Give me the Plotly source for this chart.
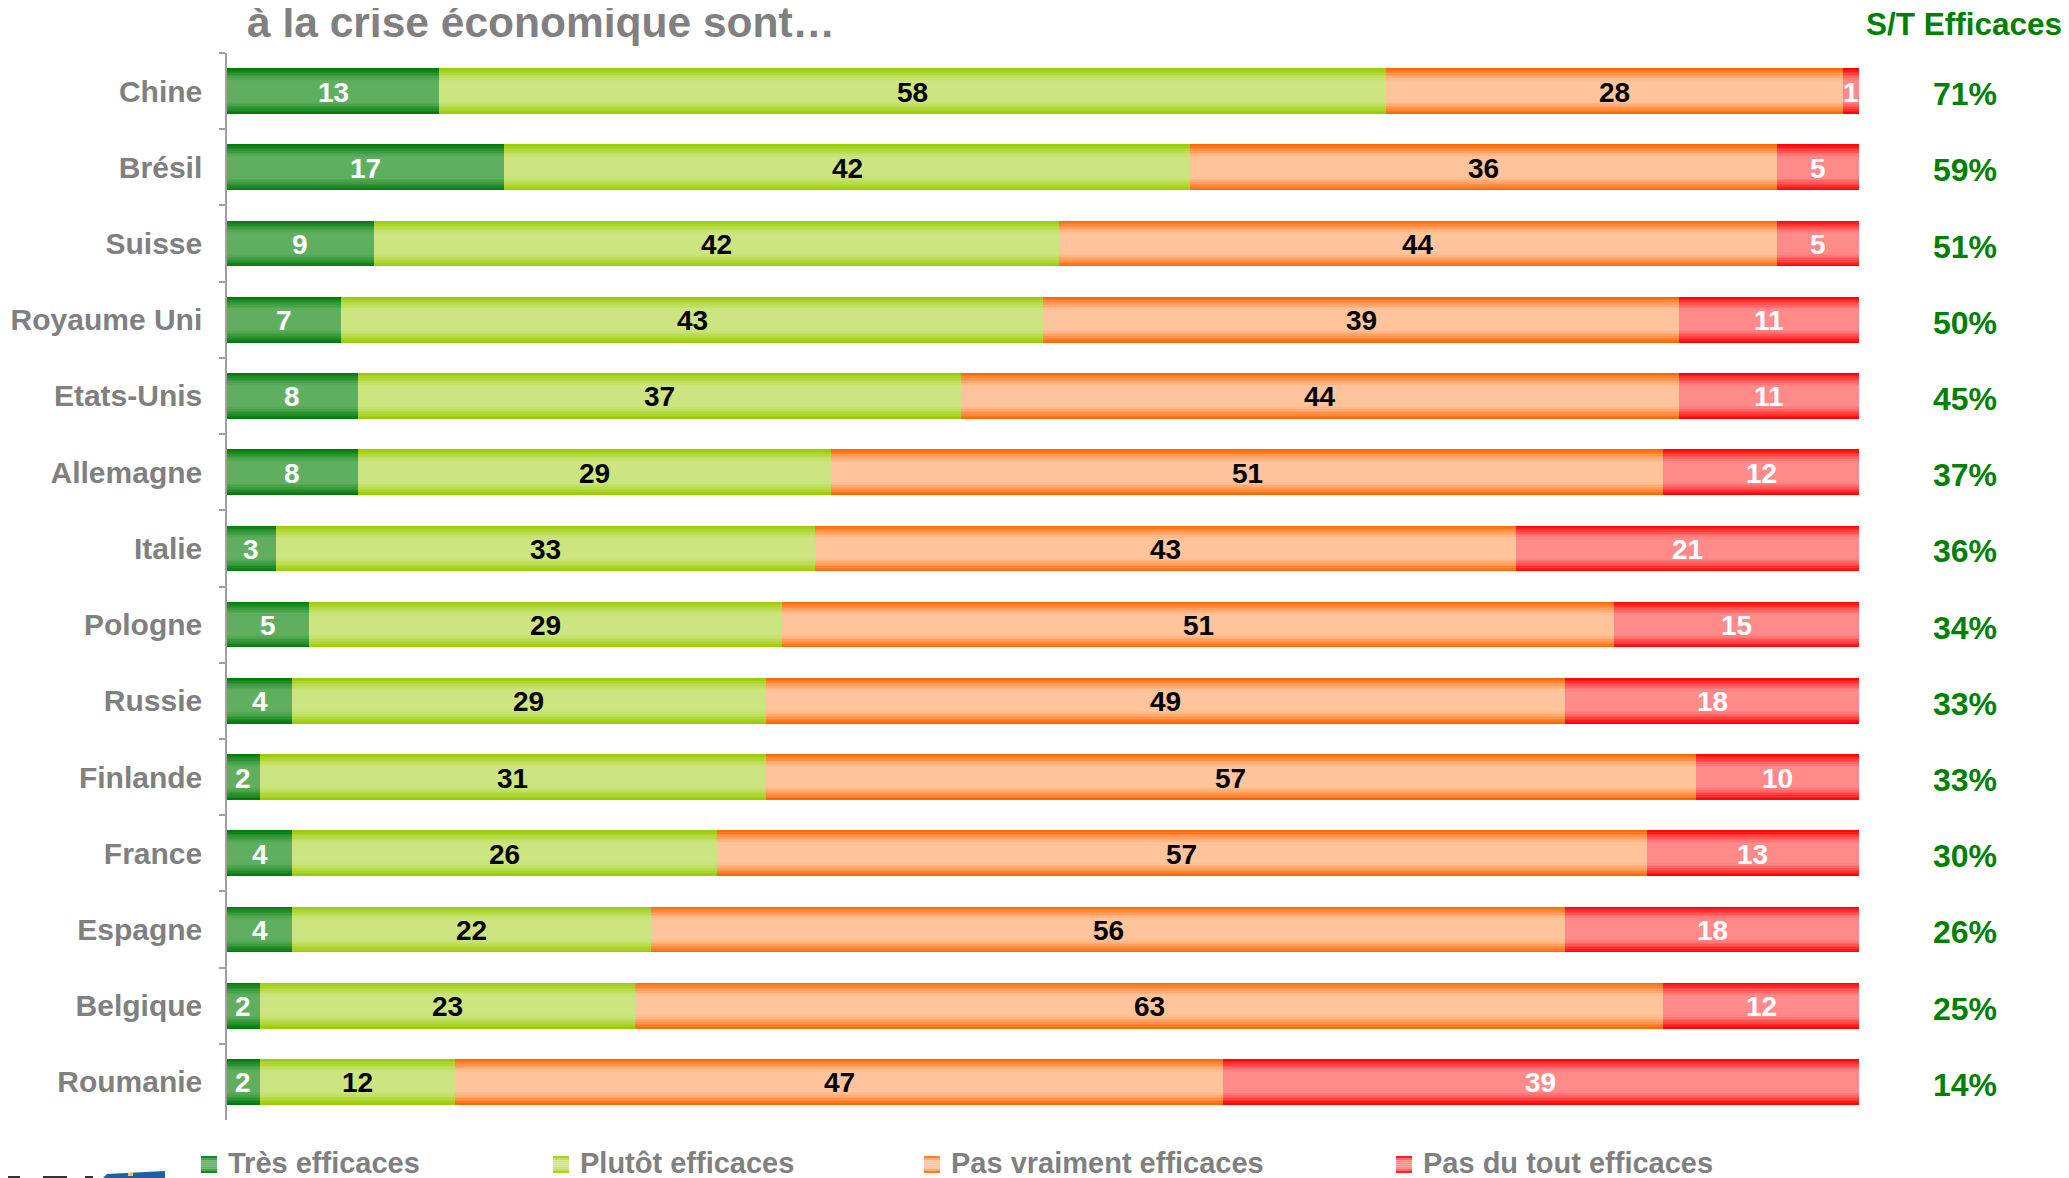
import plotly.graph_objects as go

# ---------------- data ----------------
countries = ["Chine", "Brésil", "Suisse", "Royaume Uni", "Etats-Unis", "Allemagne", "Italie",
             "Pologne", "Russie", "Finlande", "France", "Espagne", "Belgique", "Roumanie"]
tres_efficaces = [13, 17, 9, 7, 8, 8, 3, 5, 4, 2, 4, 4, 2, 2]
plutot_efficaces = [58, 42, 42, 43, 37, 29, 33, 29, 29, 31, 26, 22, 23, 12]
pas_vraiment_efficaces = [28, 36, 44, 39, 44, 51, 43, 51, 49, 57, 57, 56, 63, 47]
pas_du_tout_efficaces = [1, 5, 5, 11, 11, 12, 21, 15, 18, 10, 13, 18, 12, 39]
st_efficaces = [71, 59, 51, 50, 45, 37, 36, 34, 33, 33, 30, 26, 25, 14]
series_names = ["Très efficaces", "Plutôt efficaces", "Pas vraiment efficaces", "Pas du tout efficaces"]
title_text = "à la crise économique sont…"
st_title = "S/T Efficaces"

series_values = [tres_efficaces, plutot_efficaces, pas_vraiment_efficaces, pas_du_tout_efficaces]

# ---------------- styles ----------------
OFF = 8                                   # page body margin of the html page
W, H = 2069 - OFF, 1178 - OFF
L, R, T, B = 227 - OFF, 1859 - OFF, 53 - OFF, 1120 - OFF   # plot area in figure pixels
FONT = "Arial, Liberation Sans, Helvetica, sans-serif"
GRAY = "#808080"
GREEN_TXT = "#008000"
edge_cols = [(0, 122, 8), (153, 204, 0), (255, 102, 0), (255, 0, 0)]
center_cols = [(96, 175, 96), (204, 229, 128), (255, 196, 156), (255, 138, 138)]
text_cols = ["white", "black", "black", "white"]
BAR_W = 0.6
N_LAYERS = 14


def px2x(px):
    # px: page pixel
    return (px - OFF - L) / (R - L)


def py2y(py):
    return (B - (py - OFF)) / (B - T)


def blend(c_center, c_edge, t):
    # t: 0 = centre of bar, 1 = edge of bar
    f = max(0.0, min(1.0, (t - 0.42) / 0.56)) ** 1.25
    c = [round(a + (b - a) * f) for a, b in zip(c_center, c_edge)]
    return "rgb(%d,%d,%d)" % tuple(c)


fig = go.Figure()

# stacked bases computed from the data
bases = []
running = [0] * len(countries)
for vals in series_values:
    bases.append(list(running))
    running = [r + v for r, v in zip(running, vals)]

# gradient bars: layered bars of decreasing thickness
for s, vals in enumerate(series_values):
    for k in range(N_LAYERS):
        t_outer = 1 - k / N_LAYERS
        t_mid = t_outer - 0.5 / N_LAYERS
        fig.add_trace(go.Bar(
            orientation="h", y=countries, x=vals, base=bases[s],
            width=BAR_W * t_outer,
            marker=dict(color=blend(center_cols[s], edge_cols[s], t_mid), line=dict(width=0)),
            showlegend=False, hoverinfo="skip", name=series_names[s],
        ))

annotations = []
# value labels (placed through the data axes)
for s, vals in enumerate(series_values):
    for c, b, v in zip(countries, bases[s], vals):
        annotations.append(dict(
            xref="x", yref="y", x=b + v / 2, y=c, text=str(v), showarrow=False,
            xanchor="center", yanchor="middle", yshift=-1,
            font=dict(family=FONT, size=28, color=text_cols[s], weight="bold")))

# S/T column
for c, v in zip(countries, st_efficaces):
    annotations.append(dict(
        xref="paper", yref="y", x=px2x(1965), y=c, text=f"{v}%", showarrow=False,
        xanchor="center", yanchor="middle", yshift=-3,
        font=dict(family=FONT, size=32, color=GREEN_TXT, weight="bold")))
annotations.append(dict(
    xref="paper", yref="paper", x=px2x(1964), y=py2y(24), text=st_title, showarrow=False,
    xanchor="center", yanchor="middle",
    font=dict(family=FONT, size=31.5, color=GREEN_TXT, weight="bold")))
# partial title
annotations.append(dict(
    xref="paper", yref="paper", x=px2x(245), y=py2y(22), text=title_text, showarrow=False,
    xanchor="left", yanchor="middle",
    font=dict(family=FONT, size=42.5, color=GRAY, weight="bold")))

shapes = []
# legend (manual, cut by bottom edge like the reference)
leg_sym_x = [201, 553, 924, 1396]
for s, name in enumerate(series_names):
    x0 = leg_sym_x[s]
    y_top, y_bot = 1156, 1173
    n = 8
    for k in range(n):
        ya = y_top + (y_bot - y_top) * k / n
        yb = y_top + (y_bot - y_top) * (k + 1) / n
        t = abs(((ya + yb) / 2 - (y_top + y_bot) / 2) / ((y_bot - y_top) / 2))
        shapes.append(dict(type="rect", xref="paper", yref="paper",
                           x0=px2x(x0), x1=px2x(x0 + 16), y0=py2y(yb), y1=py2y(ya),
                           line=dict(width=0), fillcolor=blend(center_cols[s], edge_cols[s], t),
                           layer="above"))
    annotations.append(dict(
        xref="paper", yref="paper", x=px2x(x0 + 25), y=py2y(1163), text=name, showarrow=False,
        xanchor="left", yanchor="middle",
        font=dict(family=FONT, size=29, color=GRAY, weight="bold")))

# partial logo at bottom-left
shapes.append(dict(type="path", xref="paper", yref="paper",
                   path=f"M {px2x(103)},{py2y(1178)} L {px2x(107)},{py2y(1174)} L {px2x(165)},{py2y(1171)} L {px2x(165)},{py2y(1178)} Z",
                   fillcolor="#1f5fa8", line=dict(width=0), layer="above"))
shapes.append(dict(type="rect", xref="paper", yref="paper",
                   x0=px2x(128), x1=px2x(133), y0=py2y(1176), y1=py2y(1173),
                   fillcolor="#f2d21b", line=dict(width=0), layer="above"))
for xa, xb in [(0, 20), (43, 67), (85, 93)]:
    shapes.append(dict(type="rect", xref="paper", yref="paper",
                       x0=px2x(xa), x1=px2x(xb), y0=py2y(1178), y1=py2y(1176),
                       fillcolor="#333333", line=dict(width=0), layer="above"))

fig.update_layout(
    width=W, height=H,
    margin=dict(l=L, r=W - R, t=T, b=H - B, pad=0, autoexpand=False),
    barmode="overlay", bargap=0,
    paper_bgcolor="white", plot_bgcolor="white",
    showlegend=False,
    annotations=annotations, shapes=shapes,
    xaxis=dict(range=[0, 100], visible=False, fixedrange=True, automargin=False),
    yaxis=dict(
        type="category", categoryorder="array", categoryarray=countries,
        range=[len(countries) - 0.5, -0.5], automargin=False,
        tickson="boundaries", ticks="outside", ticklen=6, tickwidth=1.5, tickcolor="#a0a0a0",
        showline=True, linecolor="#a0a0a0", linewidth=1.5,
        showgrid=False, zeroline=False, ticklabelstandoff=17,
        tickfont=dict(family=FONT, size=30, color=GRAY, weight="bold"),
    ),
)

fig.write_html("out.html")
